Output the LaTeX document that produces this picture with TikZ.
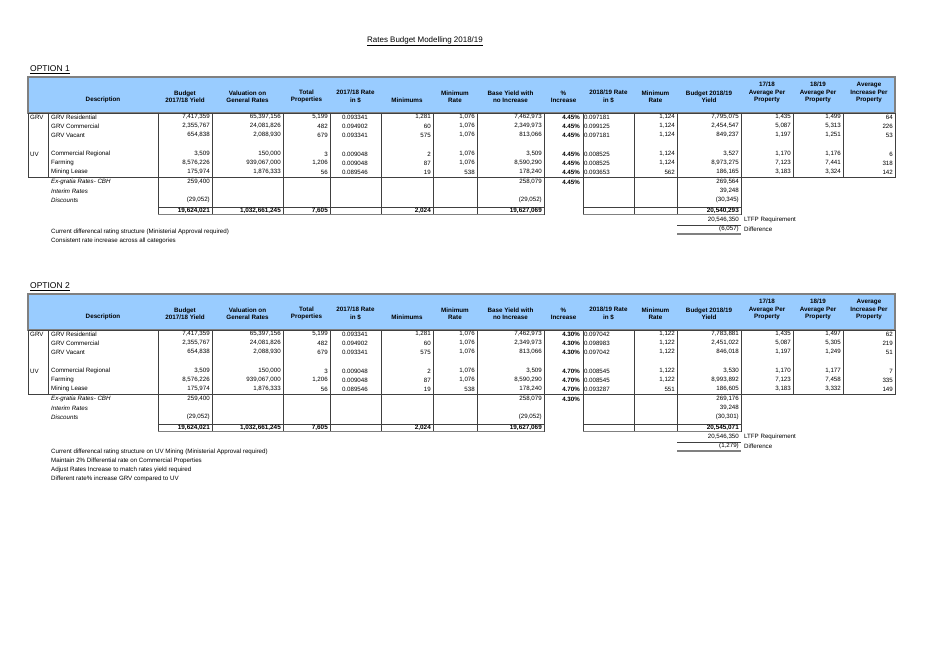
\documentclass[tikz,border=0pt]{standalone}
\usepackage{fontspec}
\setmainfont{Liberation Sans}
\usetikzlibrary{positioning}
\definecolor{hdrblue}{HTML}{99CCFF}
\tikzset{
  every picture/.style={font={\fontsize{6.2}{7}\selectfont}},
  hdr/.style={font={\bfseries\fontsize{6.3}{7.4}\selectfont}, align=center, anchor=south, inner sep=0pt},
  num/.style={anchor=east, inner sep=0pt},
  lbl/.style={anchor=west, inner sep=0pt},
  pct/.style={num, font={\bfseries\fontsize{6.2}{7}\selectfont}},
  grid line/.style={black!75, line width=0.4pt},
  frame line/.style={gray, line width=1.3pt}}

% frame, grid and column heads of one option table
\newcommand\ratesframe[1]{%
  \fill[hdrblue] (28,77) rectangle (895,113);
  \draw[frame line] (28,77) rectangle (895,113);
  \draw[grid line] (28,113) rectangle (895,177);
  \foreach \x in {48,158,212,283,330,381,433,477,544,583,634,677,741,793,843}
    \draw[grid line] (\x,113) -- (\x,177);
  \foreach \x in {158,212,283,330,381,433,477,544,583,634,677,741}
    \draw[grid line] (\x,177) -- (\x,215);
  \draw[grid line] (158,207) -- (544,207) (583,207) -- (741,207);
  \draw[frame line] (158,214.5) -- (544,214.5) (583,214.5) -- (741,214.5);
  \draw[grid line] (677,225) -- (741,225);
  \draw[frame line] (677,234) -- (741,234);
  \foreach \x/\t [count=\c] in {103/Description, 185/{Budget\\2017/18 Yield},
      247.5/{Valuation on\\General Rates}, 306.5/{Total\\Properties},
      355.5/{2017/18 Rate\\in \$}, 407/Minimums, 455/{Minimum\\Rate},
      510.5/{Base Yield with\\no Increase}, 563.5/{\%\\Increase},
      608.5/{2018/19 Rate\\in \$}, 655.5/{Minimum\\Rate},
      709/{Budget 2018/19\\Yield}, 767/{17/18\\Average Per\\Property},
      818/{18/19\\Average Per\\Property}, 869/{Average\\Increase Per\\Property}}
    \node[hdr] (#1h\c) at (\x,103) {\t};
  \node[lbl] (#1grv) at (30,117) {GRV};
  \node[lbl] (#1uv) at (30,154) {UV};
  \foreach \y/\t [count=\c] in {117/GRV Residential, 126/GRV Commercial, 135/GRV Vacant,
      154/Commercial Regional, 163/Farming, 172/Mining Lease}
    \node[lbl] (#1d\c) at (51,\y) {\t};
  \foreach \y/\t [count=\c] in {182/Ex-gratia Rates- CBH, 191/Interim Rates,
      200/Discounts/Concessions}
    \node[lbl, font={\itshape\fontsize{6.2}{7}\selectfont}] (#1e\c) at (51,\y) {\t};
  \node[lbl] (#1ltfp) at (744,220) {LTFP Requirement};
  \node[lbl] (#1diff) at (744,229) {Difference};
}

% one data row: right edges of the value columns
\def\colends{{210,281,328,368,431,475,542,580,610,675,739,791,841,893}}

\begin{document}
\begin{tikzpicture}[x=1bp, y=-1bp]
  \useasboundingbox (0,0) rectangle (929,657);

  \node[font={\fontsize{8}{9}\selectfont}] (title) at (425,41) {\underline{Rates Budget Modelling 2018/19}};

  % option 1
  \begin{scope}
    \node[lbl, font={\fontsize{8.5}{9}\selectfont}] (opt1) at (30,70) {\underline{OPTION 1}};
    \ratesframe{a}
    \foreach \y/\vals in {
        117/{{7,417,359},{65,397,156},{5,199},{0.093341},{1,281},{1,076},{7,462,973},{4.45\%},{0.097181},{1,124},{7,795,075},{1,435},{1,499},{64}},
        126/{{2,355,767},{24,081,826},{482},{0.094902},{60},{1,076},{2,349,973},{4.45\%},{0.099125},{1,124},{2,454,547},{5,087},{5,313},{226}},
        135/{{654,838},{2,088,930},{679},{0.093341},{575},{1,076},{813,066},{4.45\%},{0.097181},{1,124},{849,237},{1,197},{1,251},{53}},
        154/{{3,509},{150,000},{3},{0.009048},{2},{1,076},{3,509},{4.45\%},{0.008525},{1,124},{3,527},{1,170},{1,176},{6}},
        163/{{8,576,226},{939,067,000},{1,206},{0.009048},{87},{1,076},{8,590,290},{4.45\%},{0.008525},{1,124},{8,973,275},{7,123},{7,441},{318}},
        172/{{175,974},{1,876,333},{56},{0.089546},{19},{538},{178,240},{4.45\%},{0.093653},{562},{186,165},{3,183},{3,324},{142}},
        182/{{259,400},{},{},{},{},{},{258,079},{4.45\%},{},{},{269,564},{},{},{}},
        191/{{},{},{},{},{},{},{},{},{},{},{39,248},{},{},{}},
        200/{{(29,052)},{},{},{},{},{},{(29,052)},{},{},{},{(30,345)},{},{},{}},
        220/{{},{},{},{},{},{},{},{},{},{},{20,546,350},{},{},{}},
        229/{{},{},{},{},{},{},{},{},{},{},{(6,057)},{},{},{}}}
      \foreach \v [count=\c from 0] in \vals {
        \pgfmathsetmacro\xr{\colends[\c]}
        \ifnum\c=7 \node[pct] (a\y-\c) at (\xr,\y) {\v};
        \else \node[num] (a\y-\c) at (\xr,\y) {\v}; \fi
      }
    \foreach \x/\v [count=\c] in {210/{19,624,021}, 281/{1,032,661,245}, 328/{7,605},
        431/{2,024}, 542/{19,627,069}, 739/{20,540,293}}
      \node[num, font={\bfseries\fontsize{6.4}{7}\selectfont}] (atot\c) at (\x,211) {\v};
    \node[lbl] (an1) at (51,232) {Current differencal rating structure (Ministerial Approval required)};
    \node[lbl] (an2) at (51,241) {Consistent rate increase across all categories};
  \end{scope}

  % option 2
  \begin{scope}[yshift=-217bp]
    \node[lbl, font={\fontsize{8.5}{9}\selectfont}] (opt2) at (30,70) {\underline{OPTION 2}};
    \ratesframe{b}
    \foreach \y/\vals in {
        117/{{7,417,359},{65,397,156},{5,199},{0.093341},{1,281},{1,076},{7,462,973},{4.30\%},{0.097042},{1,122},{7,783,881},{1,435},{1,497},{62}},
        126/{{2,355,767},{24,081,826},{482},{0.094902},{60},{1,076},{2,349,973},{4.30\%},{0.098983},{1,122},{2,451,022},{5,087},{5,305},{219}},
        135/{{654,838},{2,088,930},{679},{0.093341},{575},{1,076},{813,066},{4.30\%},{0.097042},{1,122},{846,018},{1,197},{1,249},{51}},
        154/{{3,509},{150,000},{3},{0.009048},{2},{1,076},{3,509},{4.70\%},{0.008545},{1,122},{3,530},{1,170},{1,177},{7}},
        163/{{8,576,226},{939,067,000},{1,206},{0.009048},{87},{1,076},{8,590,290},{4.70\%},{0.008545},{1,122},{8,993,892},{7,123},{7,458},{335}},
        172/{{175,974},{1,876,333},{56},{0.089546},{19},{538},{178,240},{4.70\%},{0.093287},{551},{186,605},{3,183},{3,332},{149}},
        182/{{259,400},{},{},{},{},{},{258,079},{4.30\%},{},{},{269,176},{},{},{}},
        191/{{},{},{},{},{},{},{},{},{},{},{39,248},{},{},{}},
        200/{{(29,052)},{},{},{},{},{},{(29,052)},{},{},{},{(30,301)},{},{},{}},
        220/{{},{},{},{},{},{},{},{},{},{},{20,546,350},{},{},{}},
        229/{{},{},{},{},{},{},{},{},{},{},{(1,279)},{},{},{}}}
      \foreach \v [count=\c from 0] in \vals {
        \pgfmathsetmacro\xr{\colends[\c]}
        \ifnum\c=7 \node[pct] (b\y-\c) at (\xr,\y) {\v};
        \else \node[num] (b\y-\c) at (\xr,\y) {\v}; \fi
      }
    \foreach \x/\v [count=\c] in {210/{19,624,021}, 281/{1,032,661,245}, 328/{7,605},
        431/{2,024}, 542/{19,627,069}, 739/{20,545,071}}
      \node[num, font={\bfseries\fontsize{6.4}{7}\selectfont}] (btot\c) at (\x,211) {\v};
    \node[lbl] (bn1) at (51,235) {Current differencal rating structure on UV Mining (Ministerial Approval required)};
    \node[lbl] (bn2) at (51,244) {Maintain 2\% Differential rate on Commercial Properties};
    \node[lbl] (bn3) at (51,253) {Adjust Rates Increase to match rates yield required};
    \node[lbl] (bn4) at (51,262) {Different rate\% increase GRV compared to UV};
  \end{scope}
\end{tikzpicture}
\end{document}
